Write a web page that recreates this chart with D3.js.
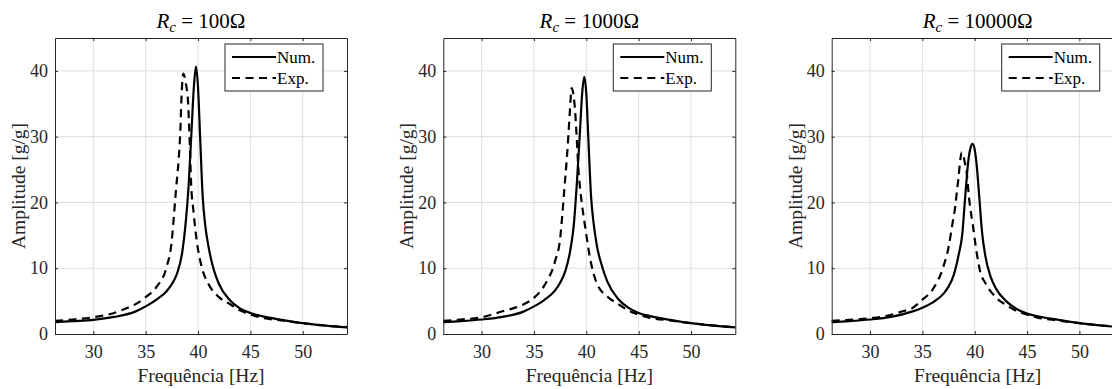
<!DOCTYPE html>
<html>
<head>
<meta charset="utf-8">
<script src="https://cdn.jsdelivr.net/npm/d3@7"></script>
<style>
  body { margin: 0; background: #fff; }
  svg text { font-family: "Liberation Serif", "DejaVu Serif", serif; }
</style>
</head>
<body>
<div id="chart"></div>
<script>
// Resistência de carga de cada painel
const loads = ["100", "1000", "10000"];

// Curvas numéricas (mesma grade de frequência)
const numFreq = [26.34, 28, 30, 32, 34, 35, 36, 37, 37.5, 38, 38.5, 38.8, 39.1, 39.4, 39.6, 39.8,
  40.0, 40.2, 40.45, 40.7, 41, 41.5, 42, 43, 44, 45, 46, 48, 50, 52, 54.23];
const numAmp100 = [1.8, 1.95, 2.15, 2.6, 3.4, 4.2, 5.2, 6.5, 7.6, 9.2, 12.5, 16.5, 22.5, 31.5, 37.5, 40.65,
  37.5, 30, 20.8, 16.4, 13.3, 9.8, 7.6, 5.2, 3.9, 3.2, 2.75, 2.15, 1.65, 1.3, 1.0];
const numAmp1000 = [1.8, 1.95, 2.2, 2.6, 3.4, 4.2, 5.2, 6.6, 7.8, 9.6, 13, 16.5, 23, 31, 36.5, 39.1,
  36.5, 29.5, 21, 16.8, 13.5, 10.3, 8, 5.4, 4.0, 3.2, 2.75, 2.15, 1.65, 1.3, 1.0];
const numAmp10000 = [1.8, 1.95, 2.2, 2.6, 3.4, 4.0, 4.8, 6.1, 7.2, 9.0, 12.3, 15, 21, 26.5, 28.3, 28.9,
  28.0, 25.5, 20.5, 15.5, 12, 8.8, 7, 5.0, 3.8, 3.1, 2.7, 2.15, 1.65, 1.3, 1.0];

// Curvas experimentais
const expFreq100 = [26.34, 28, 30, 32, 33, 34, 35, 36, 37, 37.5, 37.7, 37.9, 38.15, 38.3, 38.45, 38.6, 38.7,
  38.85, 39.05, 39.2, 39.35, 39.55, 39.85, 40.35, 41, 42, 43, 44, 45, 46, 48, 50, 52, 54.23];
const expAmp100 = [2.0, 2.2, 2.55, 3.2, 3.8, 4.5, 5.6, 7.1, 10.2, 14.3, 18, 22, 26.5, 30.5, 37, 39.6, 39.2,
  38, 35.2, 29.5, 22.5, 18.9, 14.5, 10.2, 7.6, 5.6, 4.6, 3.6, 2.95, 2.5, 2.05, 1.65, 1.3, 1.05];
const expFreq1000 = [26.34, 28, 30, 32, 33, 34, 35, 36, 37, 37.5, 37.7, 37.9, 38.13, 38.28, 38.44, 38.6, 38.7,
  38.92, 39.08, 39.23, 39.45, 39.6, 39.87, 40.35, 41, 42, 43, 44, 45, 46, 48, 50, 52, 54.23];
const expAmp1000 = [2.0, 2.2, 2.55, 3.45, 3.9, 4.5, 5.5, 7.4, 11, 14.5, 18, 22, 26.5, 30, 34.1, 37.4, 37.0,
  34.1, 30, 25.4, 21.5, 19.5, 16.5, 11.6, 7.7, 5.7, 4.6, 3.6, 2.95, 2.5, 2.05, 1.65, 1.3, 1.05];
const expFreq10000 = [26.34, 28, 30, 32, 33, 34, 35, 36, 37, 37.5, 37.9, 38.15, 38.3, 38.45, 38.6, 38.75, 38.9,
  39.05, 39.25, 39.45, 39.6, 39.8, 40.1, 40.55, 41, 42, 43, 44, 45, 46, 48, 50, 52, 54.23];
const expAmp10000 = [2.0, 2.15, 2.4, 2.9, 3.4, 3.9, 5.2, 6.8, 10.2, 13.2, 17, 19.5, 21.7, 23.7, 26.2, 27.6, 27.2,
  26.1, 24.3, 20.8, 18.9, 16.8, 13.3, 9.3, 7.8, 5.6, 4.4, 3.5, 2.95, 2.5, 2.05, 1.65, 1.3, 1.05];

const xTicks = [30, 35, 40, 45, 50];
const yTicks = [0, 10, 20, 30, 40];

const panels = [
  { load: loads[0], num: numAmp100, expF: expFreq100, expA: expAmp100 },
  { load: loads[1], num: numAmp1000, expF: expFreq1000, expA: expAmp1000 },
  { load: loads[2], num: numAmp10000, expF: expFreq10000, expA: expAmp10000 }
];

const width = 1112, height = 389;
const lefts = [55, 443.3, 831.7];
const pw = 292, plotTop = 38, plotBottom = 334;
const axisColor = "#262626";
const serif = "'Liberation Serif', 'DejaVu Serif', serif";

const svg = d3.select("#chart").append("svg")
  .attr("width", width)
  .attr("height", height);

panels.forEach((p, i) => {
  const g = svg.append("g").attr("transform", `translate(${lefts[i]},0)`);

  const x = d3.scaleLinear().domain([26.34, 54.23]).range([0, pw]);
  const y = d3.scaleLinear().domain([0, 45]).range([plotBottom, plotTop]);

  // Grade
  g.append("g").selectAll("line").data(xTicks).enter().append("line")
    .attr("x1", d => x(d)).attr("x2", d => x(d))
    .attr("y1", plotTop).attr("y2", plotBottom)
    .attr("stroke", "#dfdfdf").attr("stroke-width", 1);
  g.append("g").selectAll("line").data(yTicks.slice(1)).enter().append("line")
    .attr("x1", 0).attr("x2", pw)
    .attr("y1", d => y(d)).attr("y2", d => y(d))
    .attr("stroke", "#dfdfdf").attr("stroke-width", 1);

  // Curvas
  const numData = numFreq.map((f, k) => [f, p.num[k]]);
  const expData = p.expF.map((f, k) => [f, p.expA[k]]);
  const line = d3.line().x(d => x(d[0])).y(d => y(d[1])).curve(d3.curveMonotoneX);

  g.append("path").datum(expData)
    .attr("fill", "none").attr("stroke", "#000").attr("stroke-width", 2.2)
    .attr("stroke-dasharray", "8,5.5")
    .attr("d", line);
  g.append("path").datum(numData)
    .attr("fill", "none").attr("stroke", "#000").attr("stroke-width", 2.2)
    .attr("d", line);

  // Eixos (caixa com marcas para dentro)
  const xAxis = g.append("g")
    .attr("transform", `translate(0,${plotBottom})`)
    .call(d3.axisBottom(x).tickValues(xTicks).tickSizeInner(-3).tickSizeOuter(0).tickPadding(11.5));
  const yAxis = g.append("g")
    .call(d3.axisLeft(y).tickValues(yTicks).tickSizeInner(-3).tickSizeOuter(0).tickPadding(7));
  const xTop = g.append("g")
    .attr("transform", `translate(0,${plotTop})`)
    .call(d3.axisTop(x).tickValues(xTicks).tickSizeInner(-3).tickSizeOuter(0).tickFormat(""));
  const yRight = g.append("g")
    .attr("transform", `translate(${pw},0)`)
    .call(d3.axisRight(y).tickValues(yTicks).tickSizeInner(-3).tickSizeOuter(0).tickFormat(""));
  [xAxis, yAxis, xTop, yRight].forEach(a => {
    a.attr("font-family", serif).attr("font-size", 18);
    a.select(".domain").attr("stroke", axisColor);
    a.selectAll(".tick line").attr("stroke", axisColor);
    a.selectAll(".tick text").attr("fill", axisColor);
  });

  // Título
  const title = g.append("text")
    .attr("x", pw / 2).attr("y", 28)
    .attr("text-anchor", "middle")
    .attr("fill", "#000")
    .attr("font-family", serif)
    .attr("font-size", 21);
  title.append("tspan").attr("font-style", "italic").text("R");
  title.append("tspan").attr("font-style", "italic").attr("font-size", 15).attr("dy", 4).text("c");
  title.append("tspan").attr("dy", -4).text(` = ${p.load}Ω`);

  // Rótulos dos eixos
  g.append("text")
    .attr("x", pw / 2).attr("y", 382)
    .attr("text-anchor", "middle")
    .attr("fill", axisColor)
    .attr("font-family", serif)
    .attr("font-size", 19.5)
    .text("Frequência [Hz]");
  g.append("text")
    .attr("transform", `translate(-30,${(plotTop + plotBottom) / 2}) rotate(-90)`)
    .attr("text-anchor", "middle")
    .attr("fill", axisColor)
    .attr("font-family", serif)
    .attr("font-size", 19.5)
    .text("Amplitude [g/g]");

  // Legenda
  const lg = g.append("g").attr("transform", `translate(${pw - 122},44)`);
  lg.append("rect")
    .attr("width", 98).attr("height", 47)
    .attr("fill", "#fff").attr("stroke", axisColor).attr("stroke-width", 1);
  [["Num.", null], ["Exp.", "8,5.5"]].forEach(([label, dash], k) => {
    const yy = 13 + k * 21;
    lg.append("line")
      .attr("x1", 7).attr("x2", 51).attr("y1", yy).attr("y2", yy)
      .attr("stroke", "#000").attr("stroke-width", 2.2)
      .attr("stroke-dasharray", dash);
    lg.append("text")
      .attr("x", 52).attr("y", yy + 5.5)
      .attr("fill", "#000")
      .attr("font-family", serif)
      .attr("font-size", 17)
      .text(label);
  });
});
</script>
</body>
</html>
